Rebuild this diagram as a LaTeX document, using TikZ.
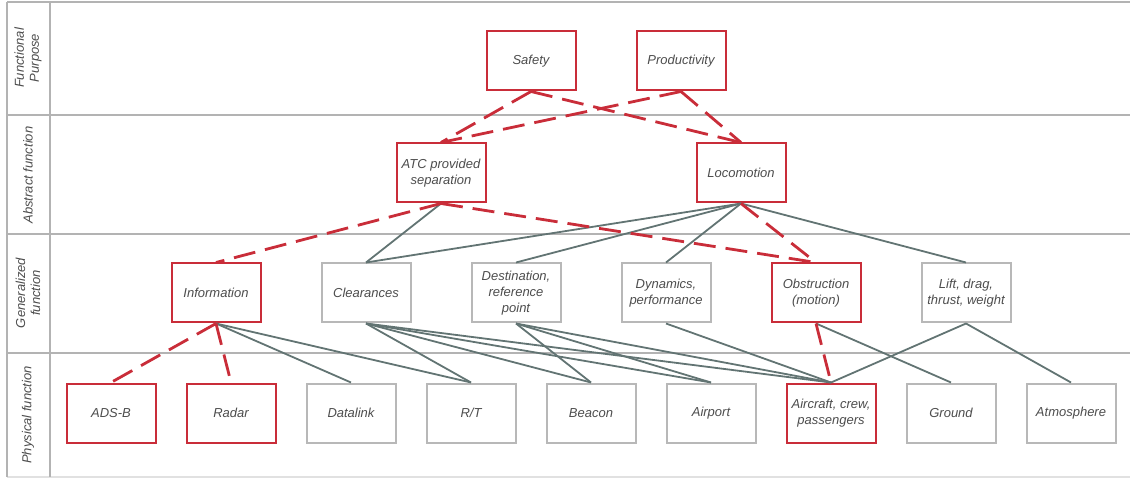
\documentclass[tikz,border=0pt]{standalone}
\usepackage{fontspec}
\setmainfont{Liberation Sans}
\usetikzlibrary{positioning}
\definecolor{lucidred}{HTML}{C92D39}
\definecolor{linkgray}{HTML}{627473}
\definecolor{boxgray}{HTML}{B8B8B8}
\definecolor{lanegray}{HTML}{B3B3B3}
\definecolor{textgray}{HTML}{4D4D4D}

\begin{document}
\begin{tikzpicture}[x=1pt,y=-1pt,
  box/.style={rectangle, minimum width=89pt, minimum height=59pt, line width=2pt,
    align=center, inner sep=1pt, text=textgray, fill=white,
    font=\fontsize{13}{16}\selectfont\itshape},
  redbox/.style={box, draw=lucidred},
  graybox/.style={box, draw=boxgray},
  lanetext/.style={rotate=90, align=center, text=textgray,
    font=\fontsize{13}{15}\selectfont\itshape},
  lane/.style={draw=lanegray, line width=2pt},
  reddash/.style={draw=lucidred, line width=2.8pt, dash pattern=on 22pt off 10pt},
  grayline/.style={draw=linkgray, line width=1.8pt}]

\useasboundingbox (0,0) rectangle (1130,478);

% Lanes
\draw[lane] (7,2) -- (1130,2);
\draw[lane] (7,115) -- (1130,115);
\draw[lane] (7,234) -- (1130,234);
\draw[lane] (7,353) -- (1130,353);
\draw[lane, draw=lanegray!40] (7,477) -- (1130,477);
\draw[lane] (7,2) -- (7,477);
\draw[lane] (50,2) -- (50,477);

\node[lanetext] (lfp) at (28,58) {Functional\\Purpose};
\node[lanetext] (laf) at (28,175) {Abstract function};
\node[lanetext] (lgf) at (28,293) {Generalized\\function};
\node[lanetext] (lpf) at (28,415) {Physical function};

% Boxes
\node[redbox] (safety) at (531,61) {Safety};
\node[redbox] (prod) at (681,61) {Productivity};

\node[redbox] (atc) at (441,173) {ATC provided\\separation};
\node[redbox] (loco) at (741,173) {Locomotion};

\node[redbox] (info) at (216,293) {Information};
\node[graybox] (clear) at (366,293) {Clearances};
\node[graybox] (dest) at (516,293) {Destination,\\reference\\point};
\node[graybox] (dyn) at (666,293) {Dynamics,\\performance};
\node[redbox] (obst) at (816,293) {Obstruction\\(motion)};
\node[graybox] (lift) at (966,293) {Lift, drag,\\thrust, weight};

\node[redbox] (adsb) at (111,413) {ADS-B};
\node[redbox] (radar) at (231,413) {Radar};
\node[graybox] (dlink) at (351,413) {Datalink};
\node[graybox] (rt) at (471,413) {R/T};
\node[graybox] (beacon) at (591,413) {Beacon};
\node[graybox] (airport) at (711,413) {Airport};
\node[redbox] (acft) at (831,413) {Aircraft, crew,\\passengers};
\node[graybox] (ground) at (951,413) {Ground};
\node[graybox] (atmo) at (1071,413) {Atmosphere};

% Solid links
\draw[grayline] (atc.south) -- (clear.north);
\draw[grayline] (loco.south) -- (clear.north);
\draw[grayline] (loco.south) -- (dest.north);
\draw[grayline] (loco.south) -- (dyn.north);
\draw[grayline] (loco.south) -- (lift.north);
\draw[grayline] (info.south) -- (dlink.north);
\draw[grayline] (info.south) -- (rt.north);
\draw[grayline] (clear.south) -- (rt.north);
\draw[grayline] (clear.south) -- (beacon.north);
\draw[grayline] (clear.south) -- (airport.north);
\draw[grayline] (clear.south) -- (acft.north);
\draw[grayline] (dest.south) -- (beacon.north);
\draw[grayline] (dest.south) -- (airport.north);
\draw[grayline] (dest.south) -- (acft.north);
\draw[grayline] (dyn.south) -- (acft.north);
\draw[grayline] (obst.south) -- (ground.north);
\draw[grayline] (lift.south) -- (acft.north);
\draw[grayline] (lift.south) -- (atmo.north);

% Dashed links
\draw[reddash] (safety.south) -- (atc.north);
\draw[reddash] (safety.south) -- (loco.north);
\draw[reddash] (prod.south) -- (atc.north);
\draw[reddash] (prod.south) -- (loco.north);
\draw[reddash] (atc.south) -- (info.north);
\draw[reddash] (atc.south) -- (obst.north);
\draw[reddash] (loco.south) -- (obst.north);
\draw[reddash] (info.south) -- (adsb.north);
\draw[reddash] (info.south) -- (radar.north);
\draw[reddash] (obst.south) -- (acft.north);

\end{tikzpicture}
\end{document}
